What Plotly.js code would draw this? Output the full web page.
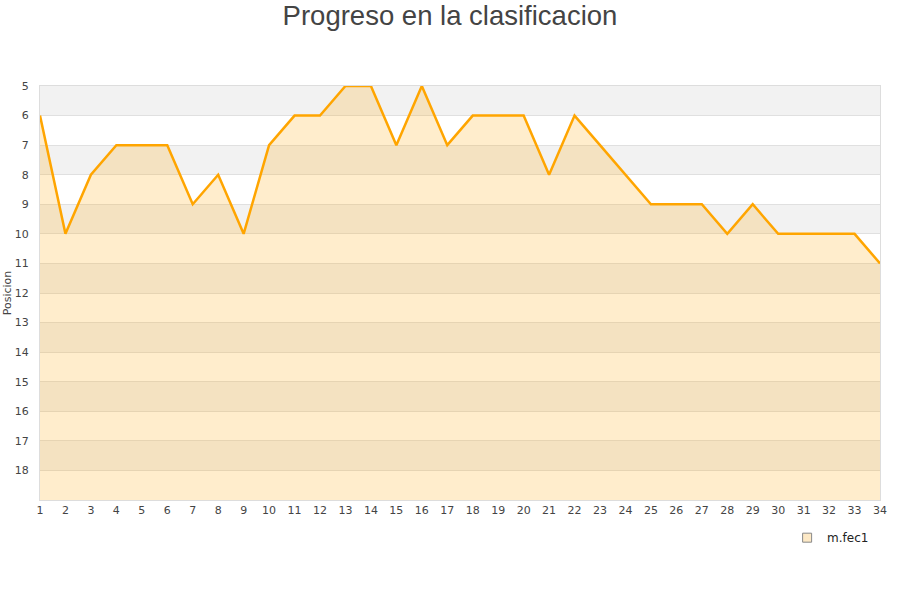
<!DOCTYPE html>
<html>
<head>
<meta charset="utf-8">
<script src="https://cdn.plot.ly/plotly-3.0.1.min.js"></script>
<style>
  body { margin: 0; background: #fff; }
  #chart { width: 900px; height: 600px; }
</style>
</head>
<body>
<div id="chart"></div>
<script>
// jornadas y posicion del equipo
const rounds = [1, 2, 3, 4, 5, 6, 7, 8, 9, 10, 11, 12, 13, 14, 15, 16, 17,
    18, 19, 20, 21, 22, 23, 24, 25, 26, 27, 28, 29, 30, 31, 32, 33, 34];
const position = [6, 10, 8, 7, 7, 7, 9, 8, 10, 7, 6, 6, 5, 5, 7, 5, 7,
    6, 6, 6, 8, 6, 7, 8, 9, 9, 9, 10, 9, 10, 10, 10, 10, 11];
const yTicks = [5, 6, 7, 8, 9, 10, 11, 12, 13, 14, 15, 16, 17, 18];
const yBottom = 19;
const seriesName = "m.fec1";

let bands = [];
for (let v = yTicks[0]; v < yBottom; v += 2) {
    bands.push({
        type: "rect", xref: "paper", yref: "y", x0: 0, x1: 1, y0: v, y1: v + 1,
        fillcolor: "#f2f2f2", line: { width: 0 }, layer: "below"
    });
}

let baseline = {
    x: rounds, y: rounds.map(() => yBottom), type: "scatter", mode: "lines",
    line: { width: 0 }, showlegend: false, hoverinfo: "skip"
};
let main = {
    x: rounds, y: position, type: "scatter", mode: "lines", fill: "tonexty",
    fillcolor: "rgba(255,165,0,0.2)", line: { color: "#ffa500", width: 2.5 },
    name: seriesName, showlegend: false
};
let legendItem = {
    x: [null], y: [null], type: "scatter", mode: "markers", name: seriesName,
    marker: { symbol: "square", size: 9, color: "#fde9c6", line: { color: "#888", width: 1 } }
};

let layout = {
    width: 900, height: 600,
    margin: { l: 40, r: 20, t: 86, b: 100 },
    paper_bgcolor: "#fff", plot_bgcolor: "#fff",
    font: { family: "DejaVu Sans", size: 11, color: "#444" },
    title: {
        text: "Progreso en la clasificacion",
        font: { family: "Liberation Sans", size: 27.5, color: "#444" },
        x: 0.5, xanchor: "center", y: 0.975, yanchor: "middle"
    },
    xaxis: {
        range: [rounds[0], rounds[rounds.length - 1]], tickvals: rounds,
        showgrid: false, zeroline: false, showline: true, linecolor: "#ddd", mirror: true,
        ticks: "", tickfont: { size: 11, color: "#444" }
    },
    yaxis: {
        range: [yBottom, yTicks[0]], tickvals: yTicks,
        showgrid: true, gridcolor: "#e0e0e0", zeroline: false,
        showline: true, linecolor: "#ddd", mirror: true, ticks: "",
        ticklabelstandoff: 8,
        tickfont: { size: 11, color: "#444" },
        title: { text: "Posicion", font: { size: 11, color: "#444" }, standoff: 0 }
    },
    shapes: bands,
    showlegend: true,
    legend: {
        x: 0.993, xanchor: "right", y: -0.056, yanchor: "top",
        font: { size: 12, color: "#222" }, bgcolor: "rgba(0,0,0,0)"
    }
};

Plotly.newPlot("chart", [baseline, main, legendItem], layout, { displayModeBar: false });
</script>
</body>
</html>
